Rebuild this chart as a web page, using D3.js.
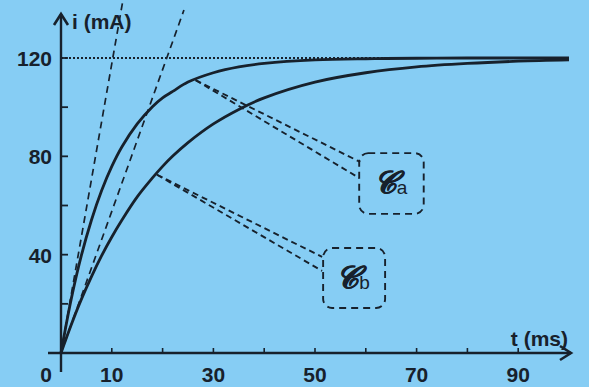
<!DOCTYPE html>
<meta charset="utf-8">
<head>
    <script src="https://d3js.org/d3.v7.min.js"></script>
    <style>
        body { margin: 0; background: #86cdf4; }
        text { font-family: "Liberation Sans", Arial, sans-serif; font-weight: bold; fill: #17212c; }
    </style>
</head>
<body>
<div id="chart"></div>

<script>
    // values (t in ms, i in mA)
    const tValues  = [0, 2, 4, 6, 8, 10, 12, 15, 18, 20, 22, 25, 30, 35, 40, 50, 60, 70, 80, 90, 100];
    const caValues = [0, 21.8, 39.6, 54.1, 66.1, 75.9, 83.9, 93.2, 100.2, 103.8, 106.4, 110.2, 114, 116.4, 117.8, 119.2, 119.7, 119.9, 120, 120, 120];
    const cbValues = [0, 11.4, 21.8, 31.1, 39.6, 47.2, 54.1, 63.5, 71.2, 75.9, 80.1, 85.6, 93.2, 99.1, 103.8, 110.2, 114, 116.4, 117.8, 118.7, 119.2];

    const xTicks = [10, 30, 50, 70, 90];
    const xMinorTicks = [10, 20, 30, 40, 50, 60, 70, 80, 90];
    const yTicks = [40, 80, 120];
    const yMinorTicks = [20, 40, 60, 80, 100, 120];
    const asymptote = 120;

    // tangents at the origin
    const tangentA = [[0, 0], [12.2, 143.6]];
    const tangentB = [[0, 0], [24.2, 139.5]];

    // callouts: anchor on curve, box in data units
    const callouts = [
        { name: "a", at: [26.5, 111], ends: [[58.9, 77.7], [58.7, 71.2]], box: [58.7, 81.3, 71.4, 56.6] },
        { name: "b", at: [18.9, 72.5], ends: [[51.4, 39.1], [51.4, 33.4]], box: [51.6, 42.7, 63.8, 18.3] }
    ];

    const width = 589, height = 387;
    const svg = d3.select("#chart").append("svg")
        .attr("width", width)
        .attr("height", height);

    const x = d3.scaleLinear().domain([0, 100]).range([61, 569]);
    const y = d3.scaleLinear().domain([0, 120]).range([353, 58]);

    const ink = "#17212c";

    // dotted asymptote
    svg.append("line")
        .attr("x1", x(0)).attr("x2", x(100))
        .attr("y1", y(asymptote)).attr("y2", y(asymptote))
        .attr("stroke", ink).attr("stroke-width", 2)
        .attr("stroke-dasharray", "2,2");

    // tangents
    const line = d3.line().x(d => x(d[0])).y(d => y(d[1]));
    [tangentA, tangentB].forEach(t => {
        svg.append("path")
            .attr("d", line(t))
            .attr("fill", "none")
            .attr("stroke", ink).attr("stroke-width", 1.7)
            .attr("stroke-dasharray", "7,5");
    });

    // axes
    svg.append("line")
        .attr("x1", 48).attr("x2", 571)
        .attr("y1", y(0)).attr("y2", y(0))
        .attr("stroke", ink).attr("stroke-width", 2.4);
    svg.append("path")
        .attr("d", `M${560},${y(0) - 7} L${571},${y(0)} L${560},${y(0) + 7}`)
        .attr("fill", "none").attr("stroke", ink).attr("stroke-width", 2.6);

    svg.append("line")
        .attr("x1", x(0)).attr("x2", x(0))
        .attr("y1", 372).attr("y2", 14)
        .attr("stroke", ink).attr("stroke-width", 2.4);
    svg.append("path")
        .attr("d", `M${x(0) - 7},${25} L${x(0)},${14} L${x(0) + 7},${25}`)
        .attr("fill", "none").attr("stroke", ink).attr("stroke-width", 2.6);

    svg.selectAll(".xtick")
        .data(xMinorTicks)
        .enter().append("line")
        .attr("x1", d => x(d)).attr("x2", d => x(d))
        .attr("y1", y(0)).attr("y2", y(0) - 5)
        .attr("stroke", ink).attr("stroke-width", 1.6);

    svg.selectAll(".ytick")
        .data(yMinorTicks)
        .enter().append("line")
        .attr("x1", x(0)).attr("x2", x(0) + 7)
        .attr("y1", d => y(d)).attr("y2", d => y(d))
        .attr("stroke", ink).attr("stroke-width", 1.8);

    svg.selectAll(".xlabel")
        .data(xTicks)
        .enter().append("text")
        .attr("x", d => x(d))
        .attr("y", 382)
        .attr("text-anchor", "middle")
        .attr("font-size", 21)
        .text(d => d);

    svg.append("text")
        .attr("x", 46).attr("y", 382)
        .attr("text-anchor", "middle")
        .attr("font-size", 21)
        .text("0");

    svg.selectAll(".ylabel")
        .data(yTicks)
        .enter().append("text")
        .attr("x", 52)
        .attr("y", d => y(d) + 8)
        .attr("text-anchor", "end")
        .attr("font-size", 21)
        .text(d => d);

    svg.append("text")
        .attr("x", 72).attr("y", 29)
        .attr("font-size", 21)
        .text("i (mA)");

    svg.append("text")
        .attr("x", 568).attr("y", 346)
        .attr("text-anchor", "end")
        .attr("font-size", 21)
        .text("t (ms)");

    // curves
    const curve = d3.line()
        .x((d, i) => x(tValues[i]))
        .y(d => y(d))
        .curve(d3.curveCatmullRom.alpha(0.5));

    [caValues, cbValues].forEach(vals => {
        svg.append("path")
            .attr("d", curve(vals))
            .attr("fill", "none")
            .attr("stroke", ink)
            .attr("stroke-width", 2.8);
    });

    // callouts
    callouts.forEach(c => {
        c.ends.forEach(e => {
            svg.append("line")
                .attr("x1", x(c.at[0])).attr("y1", y(c.at[1]))
                .attr("x2", x(e[0])).attr("y2", y(e[1]))
                .attr("stroke", ink).attr("stroke-width", 1.9)
                .attr("stroke-dasharray", "6,4");
        });
        const bx = x(c.box[0]), by = y(c.box[1]);
        const bw = x(c.box[2]) - bx, bh = y(c.box[3]) - by;
        svg.append("rect")
            .attr("x", bx).attr("y", by)
            .attr("width", bw).attr("height", bh)
            .attr("rx", 9)
            .attr("fill", "none")
            .attr("stroke", ink).attr("stroke-width", 1.9)
            .attr("stroke-dasharray", "7,5");
        const t = svg.append("text")
            .attr("x", bx + bw / 2 - 1)
            .attr("y", by + bh / 2 + 10)
            .attr("text-anchor", "middle");
        t.append("tspan")
            .attr("font-family", "DejaVu Serif, serif")
            .attr("font-style", "italic")
            .attr("font-size", 31)
            .attr("stroke", ink)
            .attr("stroke-width", 0.6)
            .text("\u{1D49E}");
        t.append("tspan")
            .attr("font-size", 19)
            .attr("font-weight", "normal")
            .attr("dy", 1)
            .text(c.name);
    });
</script>
</body>
